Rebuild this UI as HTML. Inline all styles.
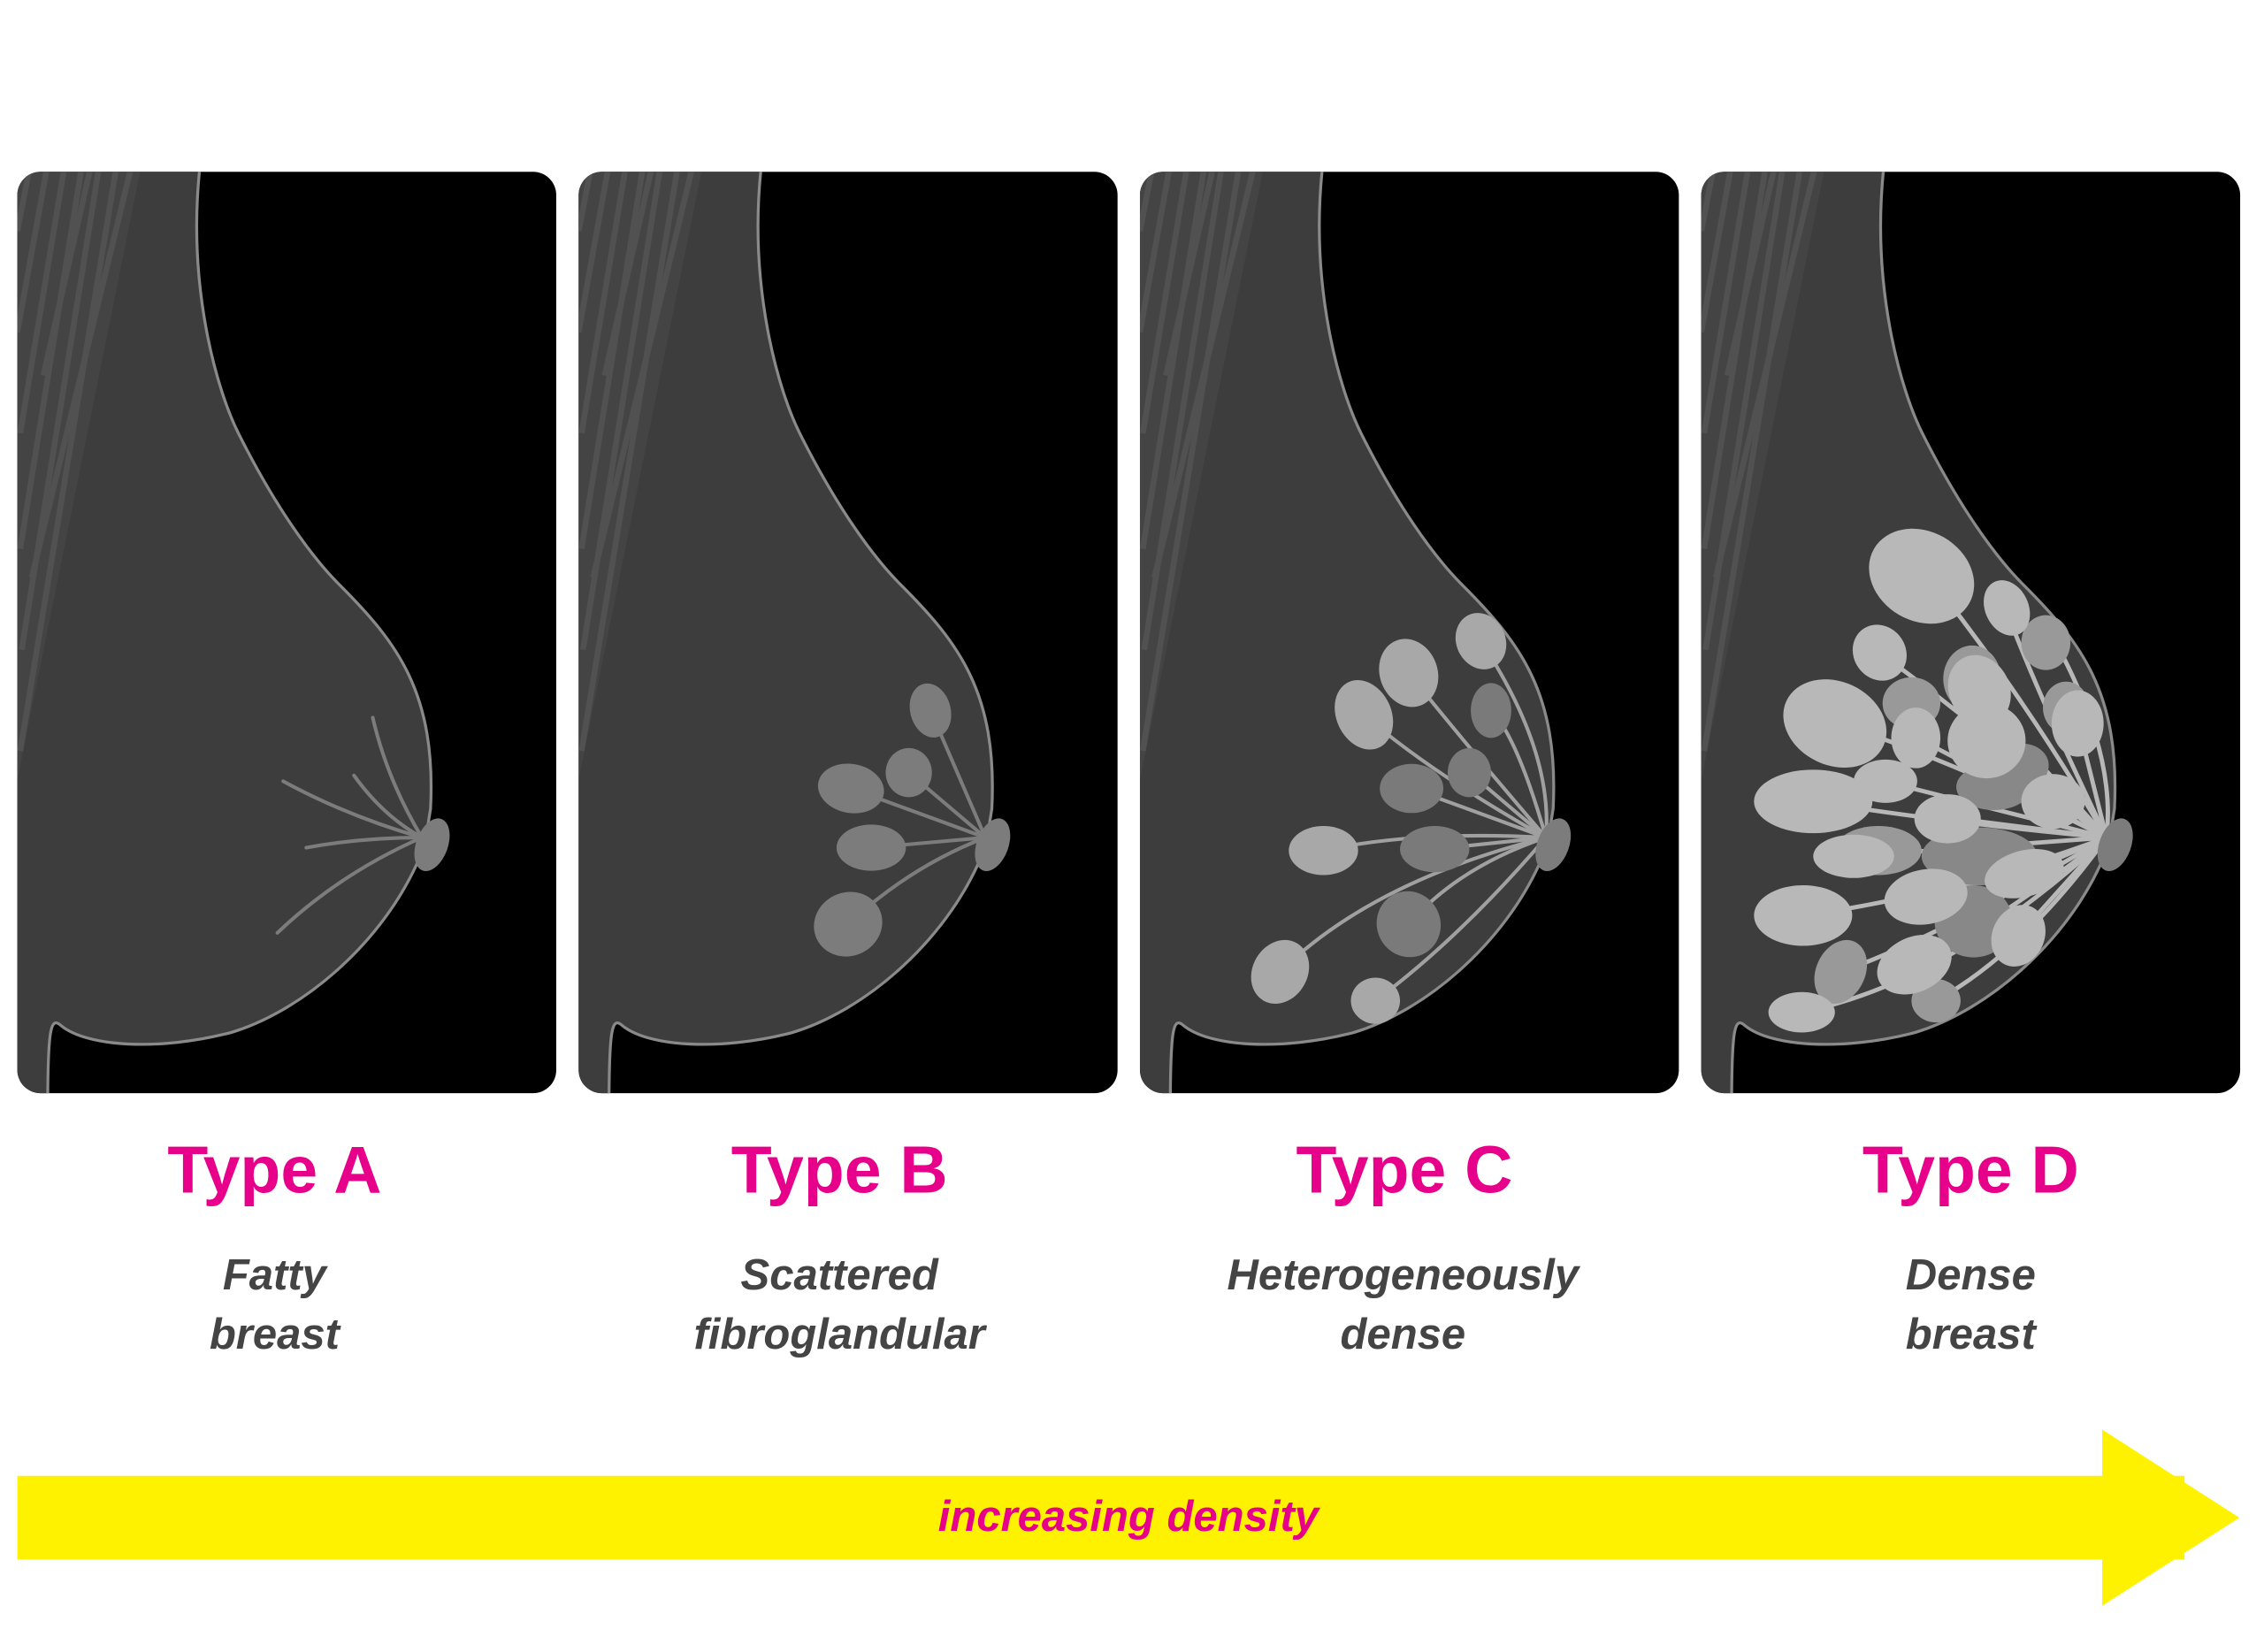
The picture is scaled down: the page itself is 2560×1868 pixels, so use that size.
<!DOCTYPE html>
<html><head><meta charset="utf-8"><style>
html,body{margin:0;padding:0;background:#fff}
svg{display:block}
</style></head><body>
<svg width="2560" height="1868" viewBox="0 0 1567 1144" preserveAspectRatio="none" xmlns="http://www.w3.org/2000/svg">
<defs>
<clipPath id="pc"><rect x="12" y="119" width="373" height="638" rx="16"/></clipPath>
<g id="panel">
  <rect x="12" y="119" width="373" height="638" rx="16" fill="#000"/>
  <g clip-path="url(#pc)">
    <path d="M0,110 L138,110 C130,200 150,270 165,300 C190,350 215,385 235,405 C275,445 302,480 298,560 L294,585 C270,650 210,700 160,715 C110,728 60,725 42,710 C35,704 33,712 33,770 L0,770 Z" fill="#3d3d3d"/>
    <g stroke="#5a5a5a" stroke-width="4" fill="none">
      <path d="M20,119 L12,160"/><path d="M32,119 L12,230"/><path d="M44,119 L14,300"/>
      <path d="M56,119 L14,380"/><path d="M68,119 L15,450"/><path d="M80,119 L14,520"/>
      <path d="M90,119 L22,400"/><path d="M62,119 L30,260"/>
    </g>
    <path d="M12,119 L97,119 L12,540 Z" fill="#4a4a4a" opacity="0.55"/>
    <path d="M138,119 C130,200 150,270 165,300 C190,350 215,385 235,405 C275,445 302,480 298,560 L294,585 C270,650 210,700 160,715 C110,728 60,725 42,710 C35,704 33,712 33,770" fill="none" stroke="#8a8a8a" stroke-width="2"/>
  </g>
</g>
</defs>

<use href="#panel"/>
<use href="#panel" transform="translate(388.5,0)"/>
<use href="#panel" transform="translate(777,0)"/>
<use href="#panel" transform="translate(1165.5,0)"/>

<!-- A ducts -->
<g stroke="#7c7c7c" stroke-width="2.5" fill="none" stroke-linecap="round">
  <path d="M292,580 Q268,540 258,497"/><path d="M292,580 Q265,565 245,537"/>
  <path d="M292,580 Q240,565 196,541"/><path d="M292,580 Q250,580 212,587"/>
  <path d="M292,580 Q235,605 192,646"/>
</g>
<ellipse cx="299" cy="585" rx="11" ry="19" transform="rotate(20 299 585)" fill="#7c7c7c"/>

<!-- B -->
<g stroke="#7c7c7c" stroke-width="2.5" fill="none">
  <path d="M682,580 L644,492"/><path d="M682,580 L629,535"/><path d="M682,580 L589,546"/>
  <path d="M682,580 L603,587"/><path d="M682,580 Q630,600 587,640"/>
</g>
<g fill="#7c7c7c">
  <ellipse cx="644" cy="492" rx="14" ry="19" transform="rotate(-15 644 492)"/>
  <ellipse cx="629" cy="535" rx="16" ry="17"/>
  <ellipse cx="589" cy="546" rx="23" ry="17" transform="rotate(10 589 546)"/>
  <ellipse cx="603" cy="587" rx="24" ry="16"/>
  <ellipse cx="587" cy="640" rx="24" ry="22" transform="rotate(-25 587 640)"/>
  <ellipse cx="687" cy="585" rx="11" ry="19" transform="rotate(20 687 585)"/>
</g>

<!-- C -->
<g stroke="#a0a0a0" stroke-width="2.5" fill="none">
  <path d="M1070,580 Q1075,520 1025,444"/><path d="M1070,580 Q1050,510 1032,492"/>
  <path d="M1070,580 Q1010,510 975,466"/><path d="M1070,580 Q990,535 944,495"/>
  <path d="M1070,580 L1017,535"/><path d="M1070,580 L977,546"/>
  <path d="M1070,580 Q980,575 916,589"/><path d="M1070,580 L993,588"/>
  <path d="M1070,580 Q1010,600 975,640"/><path d="M1070,580 Q950,610 886,673"/>
  <path d="M1070,580 Q1010,650 952,693"/>
</g>
<g>
  <ellipse cx="1032" cy="492" rx="14" ry="19" fill="#7a7a7a"/>
  <ellipse cx="1017" cy="535" rx="15" ry="17" fill="#7a7a7a"/>
  <ellipse cx="977" cy="546" rx="22" ry="17" fill="#7a7a7a"/>
  <ellipse cx="993" cy="588" rx="24" ry="16" fill="#7a7a7a"/>
  <ellipse cx="975" cy="640" rx="22" ry="23" transform="rotate(-25 975 640)" fill="#7a7a7a"/>
  <ellipse cx="944" cy="495" rx="19" ry="25" transform="rotate(-25 944 495)" fill="#a8a8a8"/>
  <ellipse cx="975" cy="466" rx="20" ry="24" transform="rotate(-20 975 466)" fill="#a8a8a8"/>
  <ellipse cx="1025" cy="444" rx="17" ry="20" transform="rotate(-25 1025 444)" fill="#a8a8a8"/>
  <ellipse cx="916" cy="589" rx="24" ry="17" fill="#a8a8a8"/>
  <ellipse cx="886" cy="673" rx="19" ry="23" transform="rotate(30 886 673)" fill="#a8a8a8"/>
  <ellipse cx="952" cy="693" rx="17" ry="16" fill="#a8a8a8"/>
  <ellipse cx="1075" cy="585" rx="11" ry="19" transform="rotate(20 1075 585)" fill="#7c7c7c"/>
</g>

<!-- D -->
<g stroke="#b8b8b8" stroke-width="3" fill="none">
  <path d="M1458,580 Q1400,480 1330,393"/><path d="M1458,580 Q1410,480 1388,421"/>
  <path d="M1458,580 Q1380,510 1301,452"/><path d="M1458,580 Q1360,530 1270,500"/>
  <path d="M1458,580 L1366,478"/><path d="M1458,580 L1325,510"/>
  <path d="M1458,580 L1375,513"/><path d="M1458,580 L1438,500"/>
  <path d="M1458,580 L1421,553"/><path d="M1458,580 Q1380,560 1304,541"/>
  <path d="M1458,580 L1347,566"/><path d="M1458,580 Q1350,570 1255,555"/>
  <path d="M1458,580 L1283,593"/><path d="M1458,580 L1400,605"/>
  <path d="M1458,580 Q1380,610 1333,621"/><path d="M1458,580 Q1350,620 1248,634"/>
  <path d="M1458,580 Q1380,640 1325,668"/><path d="M1458,580 L1397,648"/>
  <path d="M1458,580 Q1340,650 1274,673"/><path d="M1458,580 Q1350,680 1247,701"/>
  <path d="M1458,580 Q1400,660 1340,693"/><path d="M1458,580 Q1465,520 1420,440"/>
</g>
<g fill="#999">
  <ellipse cx="1416" cy="445" rx="17" ry="19"/>
  <ellipse cx="1365" cy="470" rx="20" ry="23"/>
  <ellipse cx="1323" cy="487" rx="20" ry="18"/>
  <ellipse cx="1430" cy="490" rx="16" ry="18"/>
  <ellipse cx="1380" cy="545" rx="26" ry="16" fill="#888"/>
  <ellipse cx="1300" cy="589" rx="30" ry="17"/>
  <ellipse cx="1370" cy="593" rx="40" ry="20" fill="#888"/>
  <ellipse cx="1366" cy="638" rx="27" ry="25" fill="#888"/>
  <ellipse cx="1274" cy="673" rx="17" ry="23" transform="rotate(25 1274 673)"/>
  <ellipse cx="1340" cy="693" rx="17" ry="15"/>
  <ellipse cx="1400" cy="530" rx="18" ry="15" fill="#888"/>
</g>
<g fill="#b8b8b8">
  <ellipse cx="1330" cy="399" rx="38" ry="31" transform="rotate(30 1330 399)"/>
  <ellipse cx="1389" cy="421" rx="15" ry="20" transform="rotate(-25 1389 421)"/>
  <ellipse cx="1301" cy="452" rx="18" ry="20" transform="rotate(-35 1301 452)"/>
  <ellipse cx="1270" cy="501" rx="37" ry="29" transform="rotate(25 1270 501)"/>
  <ellipse cx="1370" cy="478" rx="21" ry="25" transform="rotate(-25 1370 478)"/>
  <ellipse cx="1326" cy="511" rx="17" ry="21"/>
  <ellipse cx="1375" cy="513" rx="27" ry="26"/>
  <ellipse cx="1438" cy="501" rx="18" ry="23"/>
  <ellipse cx="1421" cy="555" rx="22" ry="19"/>
  <ellipse cx="1305" cy="541" rx="22" ry="15"/>
  <ellipse cx="1348" cy="567" rx="23" ry="17"/>
  <ellipse cx="1255" cy="555" rx="41" ry="22"/>
  <ellipse cx="1283" cy="593" rx="28" ry="15"/>
  <ellipse cx="1401" cy="605" rx="28" ry="16" transform="rotate(-15 1401 605)"/>
  <ellipse cx="1333" cy="621" rx="29" ry="19" transform="rotate(-10 1333 621)"/>
  <ellipse cx="1248" cy="634" rx="34" ry="21"/>
  <ellipse cx="1325" cy="668" rx="27" ry="19" transform="rotate(-25 1325 668)"/>
  <ellipse cx="1397" cy="648" rx="18" ry="22" transform="rotate(25 1397 648)"/>
  <ellipse cx="1247" cy="701" rx="23" ry="14"/>
</g>
<ellipse cx="1464" cy="585" rx="11" ry="19" transform="rotate(20 1464 585)" fill="#7c7c7c"/>

<!-- labels -->
<g font-family="Liberation Sans, sans-serif" font-weight="bold" font-size="46" fill="#e6008a" text-anchor="middle">
  <text x="190" y="826">Type A</text>
  <text x="581" y="826">Type B</text>
  <text x="972" y="826">Type C</text>
  <text x="1364" y="826">Type D</text>
</g>
<g font-family="Liberation Sans, sans-serif" font-style="italic" font-weight="bold" font-size="30" fill="#444" text-anchor="middle">
  <text x="190" y="893">Fatty</text><text x="190" y="934">breast</text>
  <text x="581" y="893">Scattered</text><text x="581" y="934">fibroglandular</text>
  <text x="971" y="893">Heterogeneously</text><text x="971" y="934">dense</text>
  <text x="1364" y="893">Dense</text><text x="1364" y="934">breast</text>
</g>

<!-- arrow -->
<rect x="12" y="1022" width="1500" height="58" fill="#fff200"/>
<path d="M1455,990 L1550,1051 L1455,1112 Z" fill="#fff200"/>
<text x="781" y="1060" font-family="Liberation Sans, sans-serif" font-style="italic" font-weight="bold" font-size="30" fill="#e6008a" text-anchor="middle">increasing density</text>
</svg>
</body></html>
